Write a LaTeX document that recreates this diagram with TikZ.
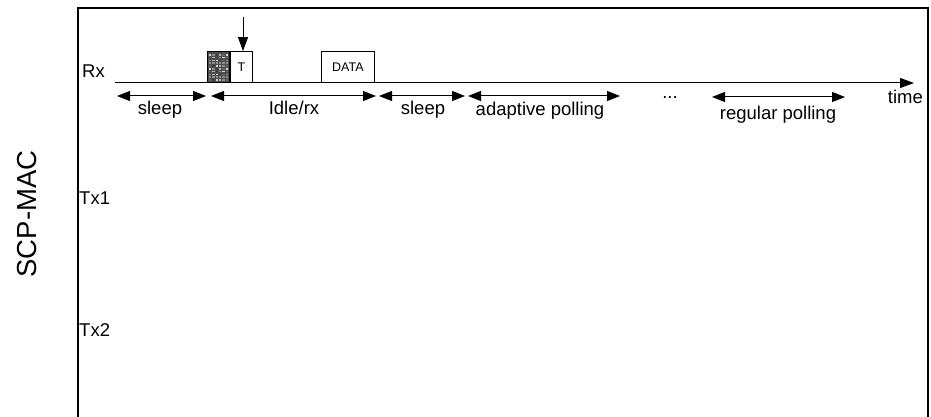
\documentclass[tikz,border=0pt]{standalone}
\usepackage{fontspec}
\setmainfont{Liberation Sans}
\usetikzlibrary{arrows.meta,positioning}

\tikzset{
  lbl/.style={font=\fontsize{18.5}{20}\selectfont, inner sep=0pt},
  small/.style={font=\fontsize{12.5}{14}\selectfont, inner sep=0pt},
  slot/.style={draw, line width=0.9pt, fill=white},
  span/.style={{Triangle[length=13pt,width=10pt]}-{Triangle[length=13pt,width=10pt]}, line width=1pt},
}

\begin{document}
\begin{tikzpicture}[x=1pt,y=-1pt]
    \useasboundingbox (0,0) rectangle (931,417);

    % Frame (open at the bottom)
    \draw[line width=1.3pt] (78,420) -- (78,8) -- (928,8) -- (928,420);

    % Side title
    \node[font=\fontsize{27.5}{30}\selectfont, inner sep=0pt, rotate=90] (title) at (27,214) {SCP-MAC};

    %% Rows
    \node[lbl, anchor=west] (rx) at (82,71) {Rx};
    \node[lbl, anchor=west] (tx1) at (79,198) {Tx1};
    \node[lbl, anchor=west] (tx2) at (79,330) {Tx2};

    %% Time axis
    \coordinate (t0) at (115,83);
    \coordinate (t1) at (914,83);
    \draw[-{Triangle[length=14pt,width=10pt]}, line width=1pt] (t0) -- (t1);
    \node[lbl, anchor=north east] (time) at (923,90) {time};

    %% Tone (noisy part) and T slot
    \node[slot, minimum width=22pt, minimum height=31pt, anchor=south west, inner sep=0pt, fill=black!70] (tone) at (207,83) {};
    \foreach \i in {0,...,5} {
      \foreach \j in {0,...,9} {
        \pgfmathtruncatemacro{\c}{mod(7*\i+3*\j*\j+\i*\j,5)*15+15}
        \fill[black!\c] (209+3.3*\i,54+2.8*\j) rectangle ++(2.3,1.6);
      }
    }
    \node[slot, small, minimum width=22pt, minimum height=31pt, anchor=south west] (tslot) at (230,83) {T};
    \node[slot, small, minimum width=53pt, minimum height=31pt, anchor=south west] (data) at (321,83) {DATA};

    %% Arrow into T
    \coordinate (cue) at (243,17);
    \draw[-{Triangle[length=14pt,width=10pt]}, line width=1pt] (cue) -- (cue |- tslot.north);

    %% Periods
    \coordinate (s0) at (117,96);
    \coordinate (s1) at (206,96);
    \coordinate (i0) at (211,96);
    \coordinate (i1) at (376,96);
    \coordinate (p0) at (379,96);
    \coordinate (p1) at (465,96);
    \coordinate (a0) at (468,96);
    \coordinate (a1) at (620,96);
    \coordinate (r0) at (712,97);
    \coordinate (r1) at (845,97);
    \draw[span] (s0) -- (s1);
    \draw[span] (i0) -- (i1);
    \draw[span] (p0) -- (p1);
    \draw[span] (a0) -- (a1);
    \draw[span] (r0) -- (r1);

    \node[lbl, anchor=base] (sleepa) at (160,114) {sleep};
    \node[lbl, anchor=base] (idle) at (294,114) {Idle/rx};
    \node[lbl, anchor=base] (sleepb) at (423,114) {sleep};
    \node[lbl, anchor=base] (adapt) at (540,116) {adaptive polling};
    \node[lbl, anchor=base] (dots) at (670,99) {...};
    \node[lbl, anchor=base] (regular) at (778,120) {regular polling};
\end{tikzpicture}
\end{document}
